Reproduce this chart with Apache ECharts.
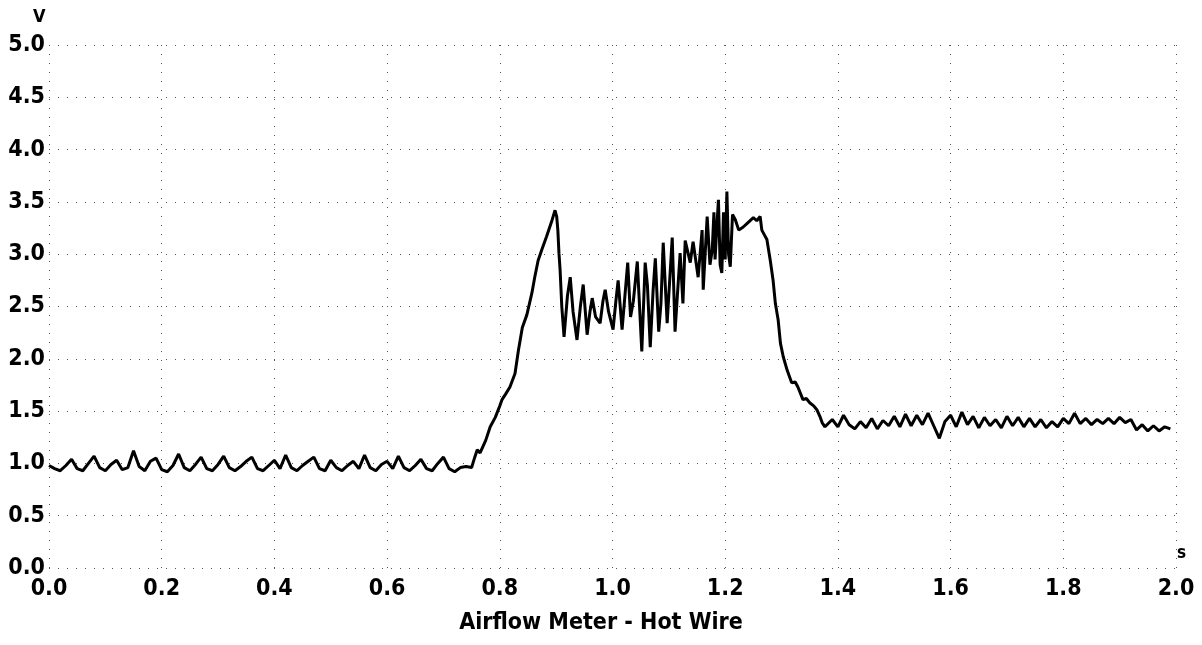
<!DOCTYPE html>
<html>
<head>
<meta charset="utf-8">
<script src="https://cdn.jsdelivr.net/npm/echarts@6/dist/echarts.min.js"></script>
<style>
  html, body { margin: 0; padding: 0; background: #fff; }
  #chart { width: 1202px; height: 645px; }
</style>
</head>
<body>
<div id="chart"></div>
<script>
// ---- Data ----
const xTicks = ['0.0','0.2','0.4','0.6','0.8','1.0','1.2','1.4','1.6','1.8','2.0'];
const yTicks = ['0.0','0.5','1.0','1.5','2.0','2.5','3.0','3.5','4.0','4.5','5.0'];
const chartTitle = 'Airflow Meter - Hot Wire';
const yUnit = 'V';
const xUnit = 's';

// idle baseline, 0.00 .. 0.75 s
const baseT = [0.00,0.01,0.02,0.03,0.04,0.05,0.06,0.07,0.08,0.09,0.10,0.11,0.12,0.13,0.14,0.15,0.16,0.17,0.18,0.19,
  0.20,0.21,0.22,0.23,0.24,0.25,0.26,0.27,0.28,0.29,0.30,0.31,0.32,0.33,0.34,0.35,0.36,0.37,0.38,0.39,
  0.40,0.41,0.42,0.43,0.44,0.45,0.46,0.47,0.48,0.49,0.50,0.51,0.52,0.53,0.54,0.55,0.56,0.57,0.58,0.59,
  0.60,0.61,0.62,0.63,0.64,0.65,0.66,0.67,0.68,0.69,0.70,0.71,0.72,0.73,0.74,0.75];
const baseV = [0.98,0.95,0.93,0.98,1.04,0.95,0.93,1.00,1.07,0.96,0.93,0.99,1.03,0.94,0.96,1.12,0.97,0.93,1.02,1.05,
  0.94,0.92,0.98,1.09,0.96,0.93,0.99,1.06,0.95,0.93,0.99,1.07,0.96,0.93,0.97,1.02,1.06,0.95,0.93,0.98,
  1.03,0.95,1.08,0.96,0.93,0.98,1.02,1.06,0.95,0.93,1.03,0.96,0.93,0.98,1.02,0.95,1.08,0.96,0.93,0.99,
  1.02,0.95,1.07,0.96,0.93,0.98,1.04,0.95,0.93,1.00,1.06,0.95,0.92,0.96,0.97,0.96];

// throttle snap rise to first peak and drop
const riseT = [0.755,0.760,0.765,0.775,0.783,0.792,0.800,0.804,0.810,0.818,0.827,0.833,0.840,0.848,0.857,0.862,0.868,0.875,0.883,0.893,0.898,0.901,0.903,0.905,0.907,0.910,0.914];
const riseV = [1.05,1.13,1.10,1.22,1.35,1.44,1.55,1.61,1.66,1.73,1.86,2.08,2.30,2.42,2.63,2.78,2.94,3.05,3.17,3.33,3.42,3.36,3.23,3.01,2.85,2.50,2.21];

// pulsating plateau
const plateauT = [0.920,0.925,0.930,0.937,0.943,0.948,0.955,0.960,0.964,0.970,0.978,0.983,0.987,0.993,1.001,1.006,1.010,1.017,1.022,1.027,
  1.032,1.037,1.044,1.052,1.058,1.062,1.067,1.072,1.076,1.082,1.086,1.090,1.097,1.106,1.111,1.120,1.125,1.129,1.138,1.143,
  1.152,1.159,1.161,1.168,1.173,1.177,1.180,1.182,1.185,1.188,1.191,1.194,1.197,1.200,1.203,1.206,1.209,1.213,1.218,1.224,
  1.232,1.240,1.250,1.256,1.262,1.265,1.270];
const plateauV = [2.60,2.78,2.45,2.18,2.50,2.71,2.23,2.45,2.58,2.40,2.34,2.55,2.66,2.45,2.28,2.55,2.75,2.28,2.60,2.92,
  2.40,2.55,2.93,2.07,2.92,2.70,2.11,2.65,2.96,2.26,2.53,3.11,2.34,3.16,2.26,3.01,2.53,3.13,2.92,3.12,
  2.78,3.23,2.66,3.36,2.90,3.04,3.40,2.95,3.25,3.52,2.90,2.82,3.40,2.95,3.60,3.00,2.88,3.38,3.33,3.23,
  3.26,3.30,3.35,3.32,3.36,3.23,3.18];

// fall back to cruise level
const fallT = [1.274,1.280,1.285,1.289,1.294,1.298,1.303,1.310,1.318,1.324,1.329,1.338,1.344,1.350,1.357,1.363,1.368,1.372,1.377];
const fallV = [3.14,2.94,2.75,2.53,2.37,2.15,2.02,1.89,1.77,1.78,1.73,1.61,1.62,1.58,1.55,1.51,1.45,1.39,1.35];

// steady tail, 1.38 .. 1.99 s
const tailT = [1.38,1.39,1.40,1.41,1.42,1.43,1.44,1.45,1.46,1.47,1.48,1.49,1.50,1.51,1.52,1.53,1.54,1.55,1.56,1.57,
  1.58,1.59,1.60,1.61,1.62,1.63,1.64,1.65,1.66,1.67,1.68,1.69,1.70,1.71,1.72,1.73,1.74,1.75,1.76,1.77,
  1.78,1.79,1.80,1.81,1.82,1.83,1.84,1.85,1.86,1.87,1.88,1.89,1.90,1.91,1.92,1.93,1.94,1.95,1.96,1.97,1.98,1.99];
const tailV = [1.34,1.42,1.35,1.46,1.37,1.33,1.40,1.34,1.43,1.33,1.41,1.36,1.45,1.35,1.47,1.36,1.46,1.37,1.48,1.36,
  1.24,1.40,1.46,1.35,1.49,1.37,1.45,1.34,1.44,1.36,1.42,1.34,1.45,1.36,1.44,1.35,1.43,1.35,1.42,1.34,
  1.40,1.35,1.43,1.38,1.48,1.38,1.43,1.37,1.42,1.38,1.43,1.38,1.44,1.39,1.42,1.32,1.37,1.31,1.36,1.31,1.35,1.33];

// ---- Build the series ----
const times = [].concat(baseT, riseT, plateauT, fallT, tailT);
const volts = [].concat(baseV, riseV, plateauV, fallV, tailV);
const points = times.map((t, i) => [t, volts[i]]);

const FONT = '"DejaVu Sans Condensed", "DejaVu Sans", sans-serif';
const grid = { left: 49, right: 26, top: 45, bottom: 77 };

const chart = echarts.init(document.getElementById('chart'), null, { renderer: 'canvas' });
chart.setOption({
  animation: false,
  backgroundColor: '#ffffff',
  grid: Object.assign({ containLabel: false }, grid),
  xAxis: {
    type: 'value', min: 0, max: 2, interval: 0.2,
    axisLine: { show: false }, axisTick: { show: false },
    axisLabel: {
      margin: 10, color: '#000', fontFamily: FONT, fontWeight: 'bold', fontSize: 23,
      formatter: (v) => xTicks[Math.round(v / 0.2)]
    },
    splitLine: { show: true, lineStyle: { color: '#555', width: 1, type: [1, 8] } }
  },
  yAxis: {
    type: 'value', min: 0, max: 5, interval: 0.5,
    axisLine: { show: false }, axisTick: { show: false },
    axisLabel: {
      margin: 4, color: '#000', fontFamily: FONT, fontWeight: 'bold', fontSize: 23,
      formatter: (v) => yTicks[Math.round(v / 0.5)]
    },
    splitLine: { show: true, lineStyle: { color: '#555', width: 1, type: [1, 8] } }
  },
  graphic: [
    { type: 'text', left: 33, top: 8, style: { text: yUnit, fill: '#000', font: 'bold 18px ' + FONT } },
    { type: 'text', left: 1177, top: 545, style: { text: xUnit, fill: '#000', font: 'bold 17px ' + FONT } },
    { type: 'text', left: 'center', top: 612, style: { text: chartTitle, fill: '#000', font: 'bold 23px ' + FONT } }
  ],
  series: [{
    type: 'line',
    data: points,
    showSymbol: false,
    smooth: false,
    lineStyle: { color: '#000', width: 3 },
    itemStyle: { color: '#000' }
  }]
});
</script>
</body>
</html>
